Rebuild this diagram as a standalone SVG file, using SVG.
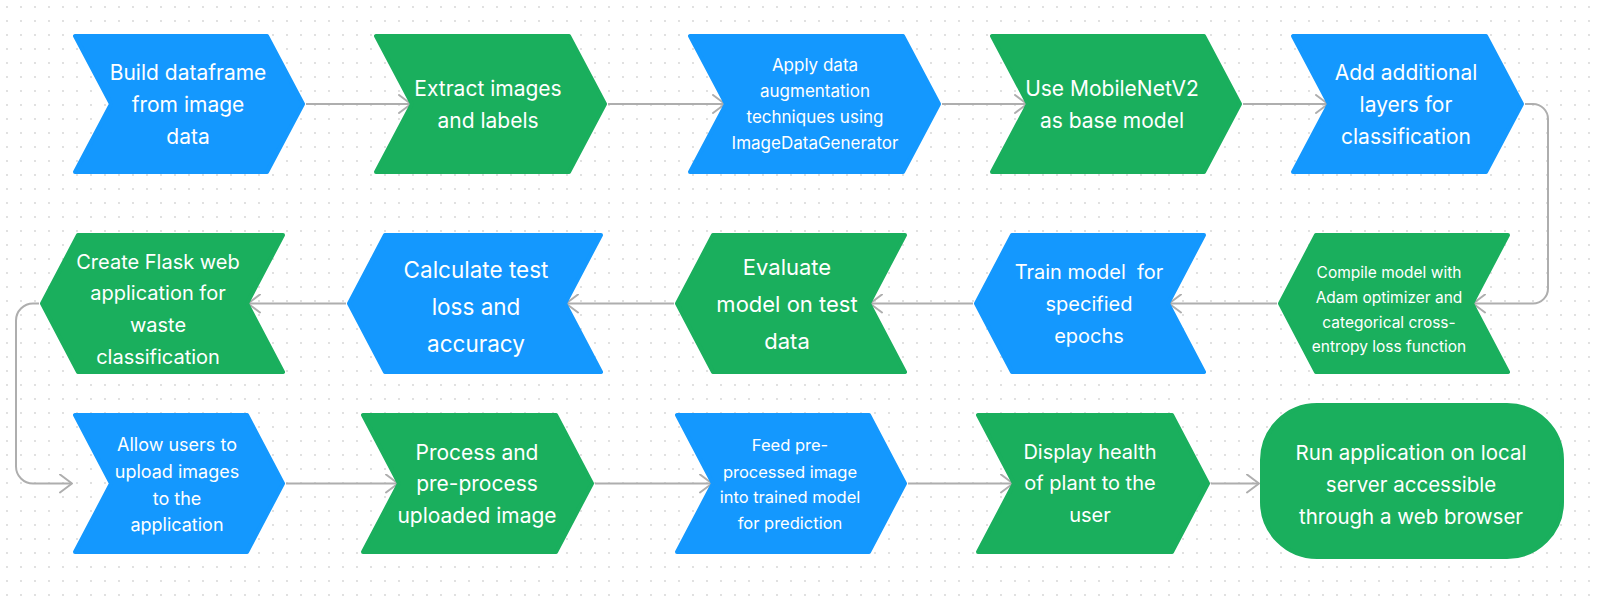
<svg xmlns="http://www.w3.org/2000/svg" width="1600" height="602" viewBox="0 0 1600 602">
<defs>
<pattern id="dots" x="0" y="0" width="14" height="14" patternUnits="userSpaceOnUse">
<circle cx="7" cy="7" r="0.9" fill="#d2d2d2"/>
</pattern>
<marker id="arr" viewBox="0 0 14 20" refX="13" refY="10" markerWidth="14" markerHeight="20" markerUnits="userSpaceOnUse" orient="auto">
<path d="M1,1 L13,10 L1,19" fill="none" stroke="#aeaeae" stroke-width="2" stroke-linecap="round" stroke-linejoin="round"/>
</marker>
<style>
.blue{fill:#1498fe;stroke:#1498fe;stroke-width:4;stroke-linejoin:round}
.green{fill:#1aaf5d;stroke:#1aaf5d;stroke-width:4;stroke-linejoin:round}
.t{font-family:Inter,"Noto Sans","Liberation Sans",sans-serif;fill:#ffffff;text-anchor:middle}
.c{fill:none;stroke:#aeaeae;stroke-width:2;marker-end:url(#arr)}
</style>
</defs>
<rect width="1600" height="602" fill="#ffffff"/>
<rect width="1600" height="602" fill="url(#dots)"/>

<g id="connectors">
<path class="c" d="M306,104 H411"/>
<path class="c" d="M608,104 H725"/>
<path class="c" d="M942,104 H1027"/>
<path class="c" d="M1243,104 H1328"/>
<path class="c" d="M1525,104 H1533 A15,15 0 0 1 1548,119 V288.5 A15,15 0 0 1 1533,303.5 H1473"/>
<path class="c" d="M1277,303.5 H1169"/>
<path class="c" d="M973,303.5 H870"/>
<path class="c" d="M674,303.5 H566"/>
<path class="c" d="M346,303.5 H248"/>
<path class="c" d="M39,303.5 H33 A17,17 0 0 0 16,320.5 V466.5 A17,17 0 0 0 33,483.5 H72"/>
<path class="c" d="M286,483.5 H398"/>
<path class="c" d="M595,483.5 H712"/>
<path class="c" d="M908,483.5 H1013"/>
<path class="c" d="M1211,483.5 H1259"/>
</g>

<g id="n1">
<polygon class="blue" points="75,36 267,36 303,104 267,172 75,172 111,104"/>
<text class="t" font-size="21"><tspan x="188" y="79.5">Build dataframe</tspan><tspan x="188" y="111.5">from image</tspan><tspan x="188" y="143.5">data</tspan></text>
</g>
<g id="n2">
<polygon class="green" points="376,36 569,36 605,104 569,172 376,172 412,104"/>
<text class="t" font-size="21"><tspan x="488" y="95.5">Extract images</tspan><tspan x="488" y="127.5">and labels</tspan></text>
</g>
<g id="n3">
<polygon class="blue" points="690,36 903,36 939,104 903,172 690,172 726,104"/>
<text class="t" font-size="17"><tspan x="815" y="71">Apply data</tspan><tspan x="815" y="97">augmentation</tspan><tspan x="815" y="123">techniques using</tspan><tspan x="815" y="149">ImageDataGenerator</tspan></text>
</g>
<g id="n4">
<polygon class="green" points="992,36 1204,36 1240,104 1204,172 992,172 1028,104"/>
<text class="t" font-size="21"><tspan x="1112" y="95.5">Use MobileNetV2</tspan><tspan x="1112" y="127.5">as base model</tspan></text>
</g>
<g id="n5">
<polygon class="blue" points="1293,36 1486,36 1522,104 1486,172 1293,172 1329,104"/>
<text class="t" font-size="21"><tspan x="1406" y="79.5">Add additional</tspan><tspan x="1406" y="111.5">layers for</tspan><tspan x="1406" y="143.5">classification</tspan></text>
</g>

<g id="n6">
<polygon class="green" points="1280,303.5 1316,235 1508,235 1472,303.5 1508,372 1316,372"/>
<text class="t" font-size="15.5"><tspan x="1389" y="277.5">Compile model with</tspan><tspan x="1389" y="302.5">Adam optimizer and</tspan><tspan x="1389" y="327.5">categorical cross-</tspan><tspan x="1389" y="351.5">entropy loss function</tspan></text>
</g>
<g id="n7">
<polygon class="blue" points="976,303.5 1012,235 1204,235 1168,303.5 1204,372 1012,372"/>
<text class="t" font-size="20"><tspan x="1089" y="279" xml:space="preserve">Train model  for</tspan><tspan x="1089" y="311">specified</tspan><tspan x="1089" y="343">epochs</tspan></text>
</g>
<g id="n8">
<polygon class="green" points="677,303.5 713,235 905,235 869,303.5 905,372 713,372"/>
<text class="t" font-size="22"><tspan x="787" y="275">Evaluate</tspan><tspan x="787" y="312">model on test</tspan><tspan x="787" y="349">data</tspan></text>
</g>
<g id="n9">
<polygon class="blue" points="349,303.5 385,235 601,235 565,303.5 601,372 385,372"/>
<text class="t" font-size="22.5"><tspan x="476" y="278">Calculate test</tspan><tspan x="476" y="315">loss and</tspan><tspan x="476" y="352">accuracy</tspan></text>
</g>
<g id="n10">
<polygon class="green" points="42,303.5 78,235 283,235 247,303.5 283,372 78,372"/>
<text class="t" font-size="20"><tspan x="158" y="269">Create Flask web</tspan><tspan x="158" y="300">application for</tspan><tspan x="158" y="332">waste</tspan><tspan x="158" y="364">classification</tspan></text>
</g>

<g id="n11">
<polygon class="blue" points="75,415 247,415 283,483.5 247,552 75,552 111,483.5"/>
<text class="t" font-size="18"><tspan x="177" y="450.5">Allow users to</tspan><tspan x="177" y="477.5">upload images</tspan><tspan x="177" y="504.5">to the</tspan><tspan x="177" y="530.5">application</tspan></text>
</g>
<g id="n12">
<polygon class="green" points="363,415 556,415 592,483.5 556,552 363,552 399,483.5"/>
<text class="t" font-size="21"><tspan x="477" y="459.5">Process and</tspan><tspan x="477" y="490.5">pre-process</tspan><tspan x="477" y="522.5">uploaded image</tspan></text>
</g>
<g id="n13">
<polygon class="blue" points="677,415 869,415 905,483.5 869,552 677,552 713,483.5"/>
<text class="t" font-size="16.5"><tspan x="790" y="451">Feed pre-</tspan><tspan x="790" y="478">processed image</tspan><tspan x="790" y="503">into trained model</tspan><tspan x="790" y="529">for prediction</tspan></text>
</g>
<g id="n14">
<polygon class="green" points="978,415 1172,415 1208,483.5 1172,552 978,552 1014,483.5"/>
<text class="t" font-size="20"><tspan x="1090" y="459">Display health</tspan><tspan x="1090" y="490">of plant to the</tspan><tspan x="1090" y="522">user</tspan></text>
</g>
<g id="n15">
<rect class="green" x="1262" y="405" width="300" height="152" rx="55" ry="55"/>
<text class="t" font-size="20.5"><tspan x="1411" y="459.5">Run application on local</tspan><tspan x="1411" y="491.5">server accessible</tspan><tspan x="1411" y="523.5">through a web browser</tspan></text>
</g>
</svg>
